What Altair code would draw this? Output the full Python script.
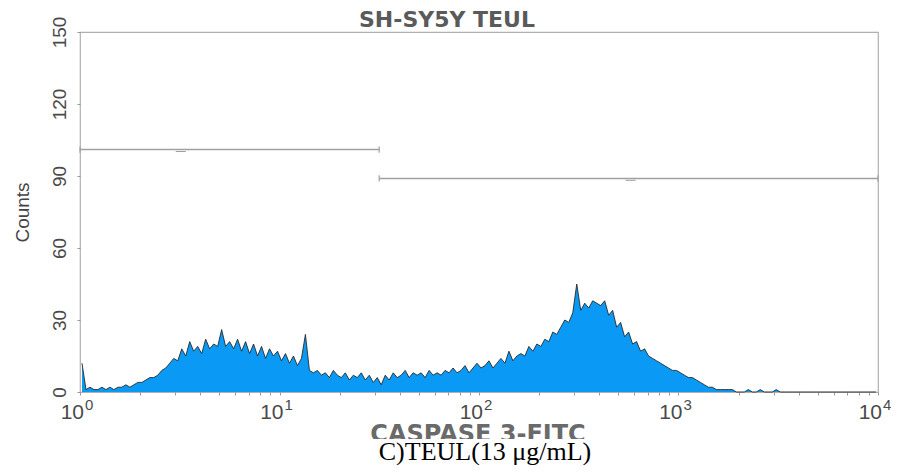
import altair as alt
import pandas as pd

# Histogram counts, 200 channels spanning 4 log decades (10^0 .. 10^4)
counts = [
    12, 1, 2, 1, 1, 2, 1, 2, 1, 2,
    2, 3, 2, 3, 4, 4, 5, 6, 6, 7,
    9, 10, 12, 14, 13, 18, 15, 21, 17, 19,
    16, 22, 18, 20, 19, 26, 19, 21, 18, 22,
    17, 21, 16, 20, 15, 19, 14, 18, 15, 17,
    13, 16, 12, 15, 11, 14, 24, 9, 8, 9,
    7, 8, 6, 9, 7, 6, 8, 5, 7, 6,
    8, 5, 7, 4, 6, 3, 7, 5, 8, 6,
    7, 9, 6, 8, 7, 8, 6, 9, 7, 8,
    7, 9, 8, 10, 8, 9, 11, 8, 10, 12,
    10, 11, 13, 10, 12, 14, 12, 17, 13, 15,
    16, 15, 19, 17, 20, 19, 22, 21, 25, 24,
    27, 30, 29, 33, 45, 34, 37, 35, 38, 37,
    36, 38, 32, 34, 27, 29, 23, 25, 20, 21,
    17, 18, 15, 14, 13, 12, 11, 10, 9, 9,
    8, 7, 6, 6, 5, 4, 3, 2, 2, 1,
    1, 1, 1, 1, 0, 0, 0, 1, 0, 0,
    1, 0, 0, 0, 1, 0, 0, 0, 0, 0,
    0, 0, 0, 0, 0, 0, 0, 0, 0, 0,
    0, 0, 0, 0, 0, 0, 0, 0, 0, 0,
]
decades = 4
x_major = [1, 10, 100, 1000, 10000]
x_exponents = ["0", "1", "2", "3", "4"]
y_ticks = [0, 15, 30, 45, 60, 75, 90, 105, 120, 135, 150]

# Gates (marker regions)
gate_start = [1, 31.6]
gate_end = [31.6, 10000]
gate_level = [101, 89]
gate_mark = [3.2, 575]

n = len(counts)
centers = [10 ** (decades * (i + 0.5) / n) for i in range(n)]
hist = pd.DataFrame({"x": centers, "c": counts})
gates = pd.DataFrame({"x1": gate_start, "x2": gate_end, "y": gate_level, "m": gate_mark})
ends = pd.DataFrame({"x": gate_start + gate_end, "y": gate_level + gate_level})
xlab = pd.DataFrame({"x": x_major, "base": ["10"] * len(x_major), "exp": x_exponents})
x_minor = [m * 10 ** k for k in range(4) for m in range(1, 10)] + [10000]

FONT = "Liberation Sans"
WIDE = "DejaVu Sans"
GRAY = "#4a4a4a"

xscale = alt.Scale(type="log", domain=[1, 10000])
yscale = alt.Scale(domain=[0, 150])

xaxis = alt.Axis(
    values=x_minor, labels=False, title=None,
    tickColor="#999999", tickSize=3, domain=False, grid=False,
)
yaxis = alt.Axis(
    values=y_ticks,
    labelExpr="datum.value % 30 == 0 ? datum.label : ''",
    title="Counts",
    titleFont=FONT, titleFontSize=19, titleFontWeight="normal", titleColor="#444444",
    titlePadding=18,
    labelFont=FONT, labelFontSize=19, labelColor=GRAY,
    labelAngle=270, labelAlign="center", labelBaseline="bottom", labelPadding=8,
    tickColor="#999999", tickSize=3, domain=False, grid=False,
)

base = alt.Chart(hist)
area = base.mark_area(color="#0a99f5").encode(
    x=alt.X("x:Q", scale=xscale, axis=xaxis),
    y=alt.Y("c:Q", scale=yscale, axis=yaxis),
)
line = base.mark_line(color="#222222", strokeWidth=1, opacity=0.85).encode(
    x=alt.X("x:Q", scale=xscale),
    y=alt.Y("c:Q", scale=yscale),
)

gate_rule = alt.Chart(gates).mark_rule(color="#a0a0a0", strokeWidth=1.5).encode(
    x=alt.X("x1:Q", scale=xscale), x2="x2:Q", y=alt.Y("y:Q", scale=yscale)
)
gate_ends = alt.Chart(ends).transform_calculate(
    ya="datum.y - 1.3", yb="datum.y + 1.3"
).mark_rule(color="#a0a0a0", strokeWidth=1.2).encode(
    x=alt.X("x:Q", scale=xscale), y=alt.Y("ya:Q", scale=yscale), y2="yb:Q"
)
gate_marks = alt.Chart(gates).transform_calculate(
    ma="datum.m / 1.06", mb="datum.m * 1.06", ym="datum.y - 0.8"
).mark_rule(color="#a0a0a0", strokeWidth=1).encode(
    x=alt.X("ma:Q", scale=xscale), x2="mb:Q", y=alt.Y("ym:Q", scale=yscale)
)

lab_base = alt.Chart(xlab).mark_text(
    font=FONT, fontSize=21, color=GRAY, align="right", baseline="alphabetic", dx=4
).encode(x=alt.X("x:Q", scale=xscale), y=alt.value(387), text="base:N")
lab_exp = alt.Chart(xlab).mark_text(
    font=FONT, fontSize=15, color=GRAY, align="left", baseline="alphabetic", dx=5
).encode(x=alt.X("x:Q", scale=xscale), y=alt.value(378), text="exp:N")

title_mark = alt.Chart(pd.DataFrame({"t": ["SH-SY5Y TEUL"]})).mark_text(
    font=WIDE, fontSize=22, fontWeight="bold", color="#5a5a5a", align="center", baseline="alphabetic"
).encode(x=alt.value(367), y=alt.value(-5), text="t:N")
xtitle = alt.Chart(pd.DataFrame({"t": ["CASPASE 3-FITC"]})).mark_text(
    font=WIDE, fontSize=24, fontWeight="bold", color="#6a6a6a", align="center", baseline="alphabetic"
).encode(x=alt.value(398), y=alt.value(410), text="t:N")
caption_bg = alt.Chart(pd.DataFrame({"t": ["bg"]})).mark_rect(color="white").encode(
    x=alt.value(270), x2=alt.value(530), y=alt.value(407), y2=alt.value(441)
)
caption = alt.Chart(pd.DataFrame({"t": ["C)TEUL(13 μg/mL)"]})).mark_text(
    font="Liberation Serif", fontSize=26, color="#000000", align="center", baseline="alphabetic"
).encode(x=alt.value(405), y=alt.value(428), text="t:N")

chart = alt.layer(
    area, line, gate_rule, gate_ends, gate_marks, lab_base, lab_exp, title_mark,
    xtitle, caption_bg, caption
).properties(
    width=798, height=360,
    autosize=alt.AutoSizeParams(type="none"),
    padding={"left": 72, "top": 24, "right": 13, "bottom": 73},
).configure_view(stroke="#b0b0b0", strokeWidth=1.2)

chart.save("out.html", embed_options={"renderer": "svg", "actions": False})
